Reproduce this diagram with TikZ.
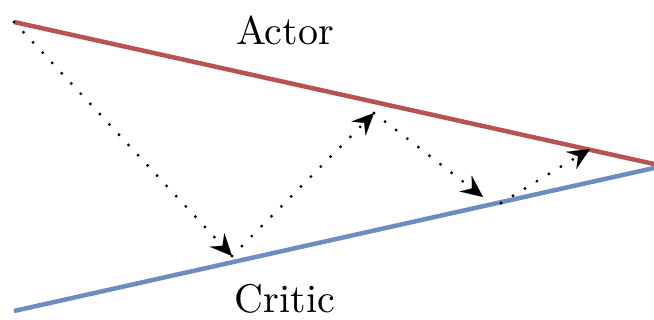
\documentclass[tikz,border=0pt]{standalone}
\usepackage{fontspec}
\newfontface\lblfont{lmroman10-regular.otf}
\usetikzlibrary{arrows.meta}
\definecolor{actorred}{HTML}{B85450}
\definecolor{criticblue}{HTML}{6C8EBF}
\tikzset{
  actorline/.style={draw=actorred, line width=4.5pt},
  criticline/.style={draw=criticblue, line width=4.5pt},
  stepline/.style={line width=3.2pt, line cap=round, dash pattern=on 0pt off 14pt,
    -{Stealth[length=22pt,width=20pt,inset=8pt,line width=0.1pt]}},
  lbl/.style={font=\lblfont\fontsize{40}{44}\selectfont, inner sep=0pt, anchor=base}
}
\begin{document}
\begin{tikzpicture}[x=1pt,y=-1pt]
\useasboundingbox (0,0) rectangle (654,320);
\coordinate (a0) at (14,22);
\coordinate (a1) at (654,164);
\coordinate (c0) at (14,311);
\coordinate (c1) at (654,168);
\draw[actorline] (a0) -- (a1);
\draw[criticline] (c0) -- (c1);
\coordinate (p1) at (232,256);
\coordinate (p2) at (374,113);
\coordinate (p3) at (483,197);
\coordinate (p4) at (501,203);
\coordinate (p5) at (590,149);
\draw[stepline] (a0) -- (p1);
\draw[stepline] (p1) -- (p2);
\draw[stepline] (p2) -- (p3);
\draw[stepline] (p4) -- (p5);
\node[lbl] (actor) at (285,45) {Actor};
\node[lbl] (critic) at (285,313) {Critic};
\end{tikzpicture}
\end{document}
